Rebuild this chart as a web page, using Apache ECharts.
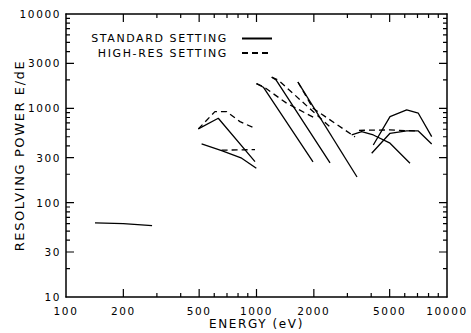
<!DOCTYPE html>
<html><head><meta charset="utf-8">
<script src="https://cdn.jsdelivr.net/npm/echarts@6/dist/echarts.min.js"></script>
<style>
html,body{margin:0;padding:0;background:#fff}
#c{width:471px;height:333px}
#c text{letter-spacing:1.6px}
</style></head><body><div id="c"></div>
<script>
// tick values
const xLabelTicks = [100, 200, 500, 1000, 2000, 5000, 10000];
const yLabelTicks = [10, 30, 100, 300, 1000, 3000, 10000];
const xMajorTicks = [200, 500, 1000, 2000, 5000];
const yMajorTicks = [30, 100, 300, 1000, 3000];
const xMinorTicks = [300, 400, 600, 700, 800, 900, 3000, 4000, 6000, 7000, 8000, 9000];
const yMinorTicks = [20, 40, 50, 60, 70, 80, 90, 200, 400, 500, 600, 700, 800, 900, 2000, 4000, 5000, 6000, 7000, 8000, 9000];

// STANDARD SETTING curves [energy eV, E/dE]
const stdLow = [[142, 61], [200, 60], [283, 57]];
const stdG1a = [[495, 605], [630, 785], [982, 272]];
const stdG1b = [[515, 419], [656, 356], [836, 296], [998, 232]];
const stdG2a = [[1000, 1830], [1086, 1674], [1980, 270]];
const stdG2b = [[1202, 2137], [1266, 2000], [2432, 264]];
const stdG2c = [[1650, 1900], [3370, 187]];
const stdG3a = [[3160, 522], [3566, 566], [4103, 522], [5022, 427], [6394, 262]];
const stdG3b = [[4103, 409], [5022, 817], [6143, 962], [7069, 887], [8311, 501]];
const stdG3c = [[4024, 334], [5022, 544], [6143, 576], [7069, 576], [8311, 419]];

// HIGH-RES SETTING curves
const hrG1a = [[495, 605], [605, 923], [697, 923], [819, 723], [980, 615]];
const hrG1b = [[656, 360], [982, 365]];
const hrG2a = [[1000, 1830], [1086, 1700], [1440, 1133], [2000, 800]];
const hrG2b = [[1202, 2137], [1300, 2000], [2432, 635]];
const hrG2c = [[1650, 1900], [1980, 1000], [3289, 498]];
const hrG3 = [[3450, 585], [5000, 590], [6792, 576]];

const stdCurves = [stdLow, stdG1a, stdG1b, stdG2a, stdG2b, stdG2c, stdG3a, stdG3b, stdG3c];
const hrCurves = [hrG1a, hrG1b, hrG2a, hrG2b, hrG2c, hrG3];

const X_MIN = 100, X_MAX = 10000, Y_MIN = 10, Y_MAX = 10000;
const FONT = 'DejaVu Sans';
const W = 471, H = 333;
const GRID = {left: 66, right: 24, top: 14, bottom: 36};
const chart = echarts.init(document.getElementById('c'), null, {renderer: 'svg'});

const axisLineStyle = {color: '#000', width: 1.5};
const xAxes = [
  {type: 'log', logBase: 10, min: X_MIN, max: X_MAX, position: 'bottom',
   axisLine: {show: true, onZero: false, lineStyle: axisLineStyle},
   axisTick: {show: false},
   axisLabel: {show: true, customValues: xLabelTicks, color: '#000', fontFamily: FONT, fontSize: 10.5, margin: 8,
     formatter: v => String(Math.round(v))},
   splitLine: {show: false},
   name: 'ENERGY (eV)', nameLocation: 'middle', nameGap: 21, nameMoveOverlap: false,
   nameTextStyle: {color: '#000', fontFamily: FONT, fontSize: 12}},
  {type: 'log', logBase: 10, min: X_MIN, max: X_MAX, position: 'top',
   axisLine: {show: true, onZero: false, lineStyle: axisLineStyle},
   axisTick: {show: false}, axisLabel: {show: false}, splitLine: {show: false}}
];
const yAxes = [
  {type: 'log', logBase: 10, min: Y_MIN, max: Y_MAX, position: 'left',
   axisLine: {show: true, onZero: false, lineStyle: axisLineStyle},
   axisTick: {show: false},
   axisLabel: {show: true, customValues: yLabelTicks, color: '#000', fontFamily: FONT, fontSize: 10.5, margin: 5,
     formatter: v => String(Math.round(v))},
   splitLine: {show: false},
   name: 'RESOLVING POWER E/dE', nameLocation: 'middle', nameGap: 40, nameRotate: 90, nameMoveOverlap: false,
   nameTextStyle: {color: '#000', fontFamily: FONT, fontSize: 13}},
  {type: 'log', logBase: 10, min: Y_MIN, max: Y_MAX, position: 'right',
   axisLine: {show: true, onZero: false, lineStyle: axisLineStyle},
   axisTick: {show: false}, axisLabel: {show: false}, splitLine: {show: false}}
];

const series = [];
stdCurves.forEach(c => series.push({
  name: 'STANDARD SETTING', type: 'line', data: c, symbol: 'none', xAxisIndex: 0, yAxisIndex: 0,
  lineStyle: {color: '#000', width: 1.3, type: 'solid'}, itemStyle: {color: '#000'}
}));
hrCurves.forEach(c => series.push({
  name: 'HIGH-RES SETTING', type: 'line', data: c, symbol: 'none', xAxisIndex: 0, yAxisIndex: 0,
  lineStyle: {color: '#000', width: 1.3, type: [6, 4]}, itemStyle: {color: '#000'}
}));

// inward tick marks, drawn as short segments on the log axes themselves.
// tick length (px) is turned into a log-scale factor using the plot size per decade
const pxPerDecX = (W - GRID.left - GRID.right) / Math.log10(X_MAX / X_MIN);
const pxPerDecY = (H - GRID.top - GRID.bottom) / Math.log10(Y_MAX / Y_MIN);
function tickSeg(data) {
  return {type: 'line', data: data, symbol: 'none', silent: true, z: 4, xAxisIndex: 0, yAxisIndex: 0,
    emphasis: {disabled: true}, tooltip: {show: false},
    lineStyle: {color: '#000', width: 1.2, type: 'solid'}};
}
function addXTicks(vals, len) {
  const f = Math.pow(10, len / pxPerDecY);
  vals.forEach(v => {
    series.push(tickSeg([[v, Y_MIN], [v, Y_MIN * f]]));
    series.push(tickSeg([[v, Y_MAX], [v, Y_MAX / f]]));
  });
}
function addYTicks(vals, len) {
  const f = Math.pow(10, len / pxPerDecX);
  vals.forEach(v => {
    series.push(tickSeg([[X_MIN, v], [X_MIN * f, v]]));
    series.push(tickSeg([[X_MAX, v], [X_MAX / f, v]]));
  });
}
addXTicks(xMajorTicks, 8); addXTicks(xMinorTicks, 4);
addYTicks(yMajorTicks, 8); addYTicks(yMinorTicks, 4);

chart.setOption({
  animation: false,
  backgroundColor: '#fff',
  grid: Object.assign({outerBoundsMode: 'none'}, GRID),
  legend: {
    orient: 'vertical', align: 'right', right: 193, top: 28,
    itemWidth: 30, itemHeight: 10, itemGap: 3.5,
    data: ['STANDARD SETTING', 'HIGH-RES SETTING'],
    itemStyle: {opacity: 0},
    textStyle: {color: '#000', fontFamily: FONT, fontSize: 11, padding: [0, 9, 0, 0]}
  },
  xAxis: xAxes,
  yAxis: yAxes,
  series: series
});
</script></body></html>
